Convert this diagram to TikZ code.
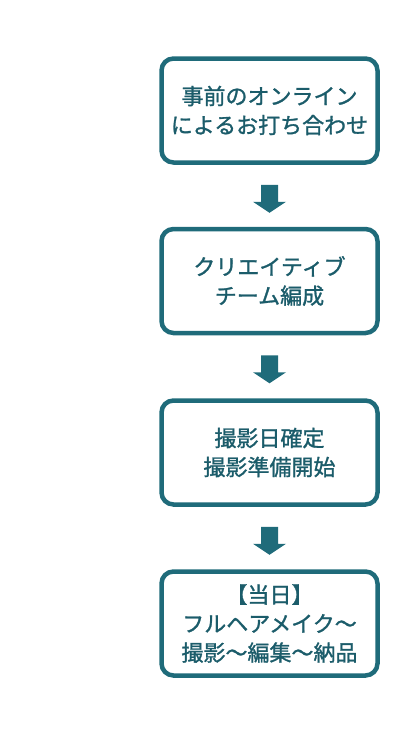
\documentclass[tikz,border=0pt]{standalone}
\usepackage{fontspec}
\newfontfamily\jpfont[FakeBold=1.2]{Noto Sans CJK JP}
\definecolor{teal1}{HTML}{1F6B7A}
\definecolor{tealtext}{HTML}{1B5C6A}
\begin{document}
\begin{tikzpicture}[x=1pt,y=-1pt,
  stepbox/.style={draw=teal1,line width=4.5pt,rounded corners=12pt,fill=white,
    minimum width=216pt,minimum height=104pt,align=center,inner sep=0pt,
    text=tealtext,font=\jpfont\fontsize{22}{29}\selectfont},
  flowarrow/.style={fill=teal1,draw=none}]
\useasboundingbox (0,0) rectangle (400,750);
\node[stepbox] (b1) at (269.5,110.5) {事前のオンライン\\によるお打ち合わせ};
\node[stepbox] (b2) at (269.5,281) {クリエイティブ\\チーム編成};
\node[stepbox] (b3) at (269.5,452.5) {撮影日確定\\撮影準備開始};
\node[stepbox] (b4) at (269.5,623.5) {【当日】\\フルヘアメイク～\\撮影～編集～納品};
\foreach \a/\b in {b1/b2,b2/b3,b3/b4}{
  \path (\a.south) ++(0,20) coordinate (top-\a);
  \fill[flowarrow] (top-\a) ++(-8.5,0) -- ++(17,0) -- ++(0,17) -- ++(8,0)
     -- ++(-16.5,11) -- ++(-16.5,-11) -- ++(8,0) -- cycle;
}
\end{tikzpicture}
\end{document}
